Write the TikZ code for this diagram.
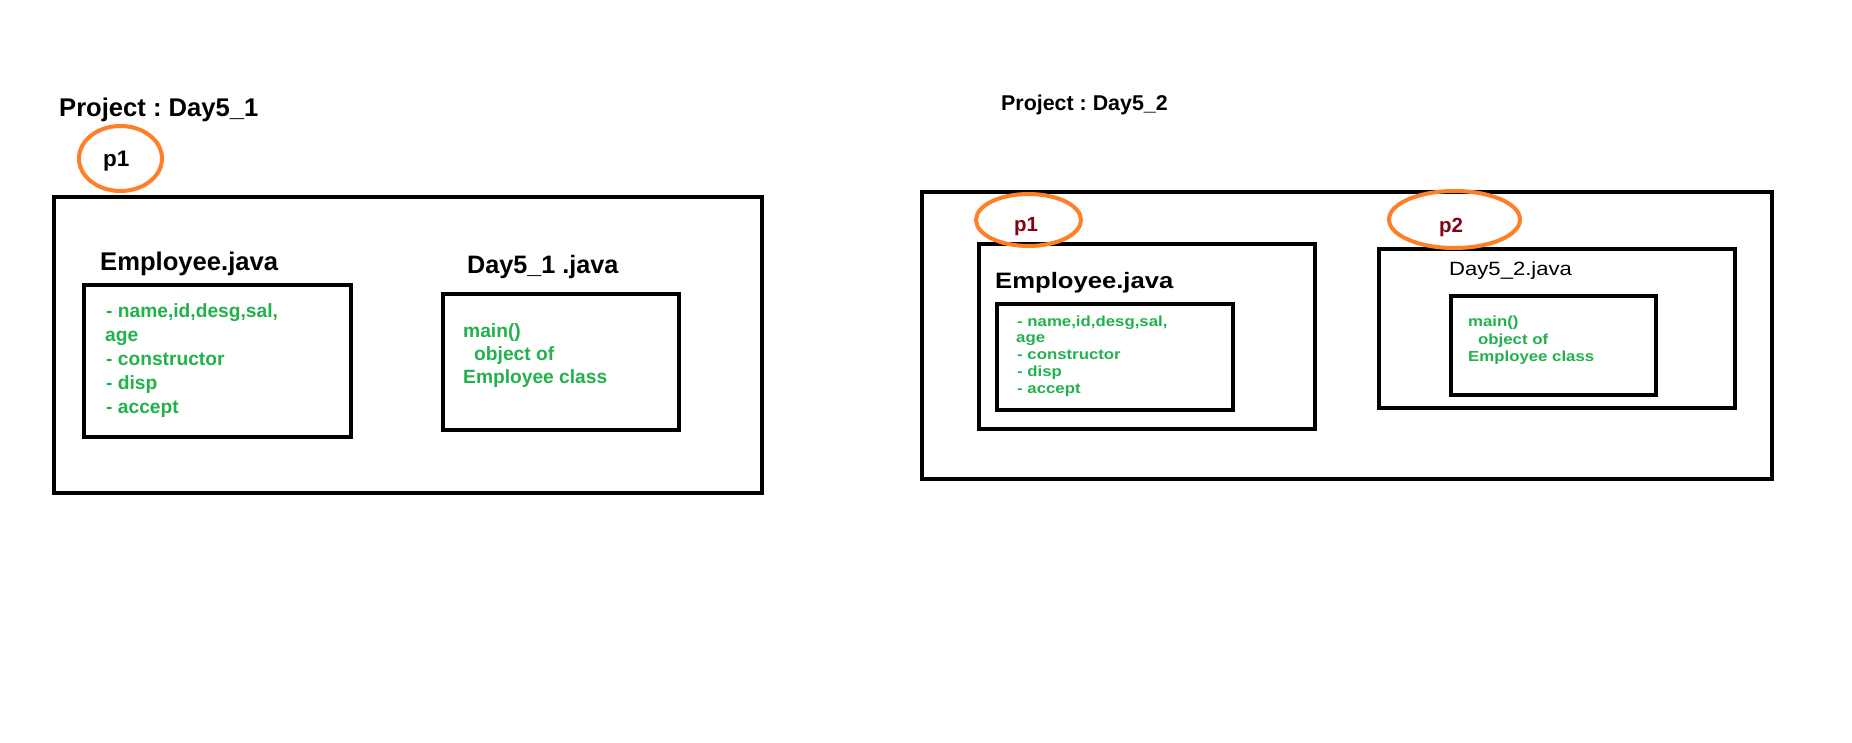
\documentclass[tikz,border=0pt]{standalone}
\usepackage{fontspec}
\setmainfont{Liberation Sans}
\newfontfamily\widefont[FakeStretch=1.15]{Liberation Sans}
\usetikzlibrary{shapes.geometric}
\definecolor{ringorange}{RGB}{255,127,39}
\definecolor{pkgred}{RGB}{136,0,21}
\definecolor{codegreen}{RGB}{34,177,76}
\frenchspacing
\tikzset{
  box/.style={draw=black, line width=4pt, inner sep=0pt, rectangle},
  ring/.style={draw=ringorange, line width=4pt, ellipse, inner sep=0pt},
  txt/.style={inner sep=0pt, anchor=base west},
  bigtxt/.style={txt, font=\fontsize{25.6}{30}\selectfont\bfseries},
  listL/.style={txt, text=codegreen, font=\fontsize{19.2}{23}\selectfont\bfseries},
  listR/.style={txt, text=codegreen, font=\widefont\fontsize{14.6}{17}\selectfont\bfseries},
}
\begin{document}
\begin{tikzpicture}[x=1pt, y=-1pt]
\path[use as bounding box, fill=white] (0,0) rectangle (1852,743);

% ---------------- Left project ----------------
\node[bigtxt] (projA) at (59,117) {Project : Day5\_1};
\node[box, minimum width=708pt, minimum height=296pt] (outerA) at (408,345) {};
\node[box, minimum width=267pt, minimum height=152pt] (empA) at (217.5,361) {};
\node[box, minimum width=236pt, minimum height=136pt] (dayA) at (561,362) {};
\node[ring, minimum width=83pt, minimum height=65pt] (ringA) at (120.5,158.5) {};
\node[txt, font=\fontsize{22.5}{26}\selectfont\bfseries] (pA) at (103,167) {p1};
\node[bigtxt] (empAt) at (100,271) {Employee.java};
\node[bigtxt, font=\fontsize{25.2}{30}\selectfont\bfseries] (dayAt) at (467,273) {Day5\_1 .java};

\node[listL] (la1) at (106,317) {- name,id,desg,sal,};
\node[listL] (la2) at (105,341) {age};
\node[listL] (la3) at (106,365) {- constructor};
\node[listL] (la4) at (106,389) {- disp};
\node[listL] (la5) at (106,413) {- accept};

\node[listL] (ma1) at (463,337) {main()};
\node[listL] (ma2) at (474,360) {object of};
\node[listL] (ma3) at (463,383) {Employee class};

% ---------------- Right project ----------------
\node[txt, font=\fontsize{21.4}{26}\selectfont\bfseries] (projB) at (1001,111) {Project : Day5\_2};
\node[box, minimum width=850pt, minimum height=287pt] (outerB) at (1347,335.5) {};
\node[box, minimum width=336pt, minimum height=185pt] (empB) at (1147,336.5) {};
\node[box, minimum width=236pt, minimum height=106pt] (empBin) at (1115,357) {};
\node[box, minimum width=356pt, minimum height=159pt] (dayB) at (1557,328.5) {};
\node[box, minimum width=205pt, minimum height=99pt] (mainB) at (1553.5,345.5) {};
\node[ring, minimum width=105pt, minimum height=52pt] (ringB1) at (1028.5,220) {};
\node[ring, minimum width=131pt, minimum height=57pt] (ringB2) at (1454.5,219.5) {};
\node[txt, text=pkgred, font=\fontsize{20.5}{24}\selectfont\bfseries] (pB1) at (1014,232) {p1};
\node[txt, text=pkgred, font=\fontsize{20.5}{24}\selectfont\bfseries] (pB2) at (1439,233) {p2};
\node[txt, font=\widefont\fontsize{22.3}{26}\selectfont\bfseries] (empBt) at (995,289) {Employee.java};
\node[txt, font=\widefont\fontsize{19.2}{23}\selectfont] (dayBt) at (1449,276) {Day5\_2.java};

\node[listR] (lb1) at (1017,326) {- name,id,desg,sal,};
\node[listR] (lb2) at (1016,342.7) {age};
\node[listR] (lb3) at (1017,359.3) {- constructor};
\node[listR] (lb4) at (1017,376.7) {- disp};
\node[listR] (lb5) at (1017,393.3) {- accept};

\node[listR] (mb1) at (1468,326) {main()};
\node[listR] (mb2) at (1478,344) {object of};
\node[listR] (mb3) at (1468,361.7) {Employee class};
\end{tikzpicture}
\end{document}
